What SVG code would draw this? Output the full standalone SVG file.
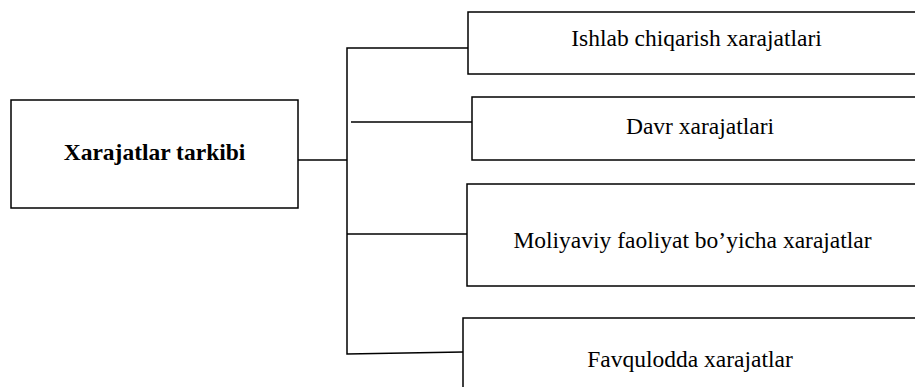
<svg xmlns="http://www.w3.org/2000/svg" width="915" height="387" viewBox="0 0 915 387">
<style>
.box{fill:#fff;stroke:#000;stroke-width:1.5}
.ln{fill:none;stroke:#000;stroke-width:1.5}
text{font-family:"Liberation Serif","Times New Roman",serif;font-size:23.5px;fill:#000;text-anchor:middle}
.b{font-weight:bold}
</style>
<rect width="915" height="387" fill="#fff"/>
<g id="connectors">
<polyline class="ln" points="298,160 347,160"/>
<polyline class="ln" points="468,48 347,48 347,354 463,352"/>
<polyline class="ln" points="351,122 472,122"/>
<polyline class="ln" points="347,234 467,234"/>
</g>
<g id="main">
<rect class="box" x="11" y="100" width="287" height="108"/>
<text class="b" x="154.5" y="160">Xarajatlar tarkibi</text>
</g>
<g id="n1">
<rect class="box" x="468" y="12" width="460" height="62"/>
<text x="696.5" y="46">Ishlab chiqarish xarajatlari</text>
</g>
<g id="n2">
<rect class="box" x="472" y="97" width="460" height="63"/>
<text x="700" y="134">Davr xarajatlari</text>
</g>
<g id="n3">
<rect class="box" x="467" y="184" width="460" height="102"/>
<text x="692.5" y="248">Moliyaviy faoliyat bo’yicha xarajatlar</text>
</g>
<g id="n4">
<rect class="box" x="463" y="318" width="460" height="100"/>
<text x="690" y="367">Favqulodda xarajatlar</text>
</g>
</svg>
